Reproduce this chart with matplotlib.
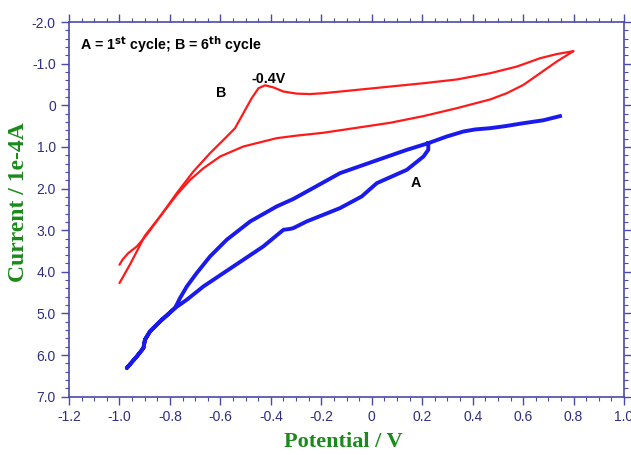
import numpy as np
import matplotlib
matplotlib.use("Agg")
import matplotlib.pyplot as plt
from matplotlib.ticker import MultipleLocator, FuncFormatter

# cycle B (6th cycle), forward branch through the -0.4 V peak
b_fwd_x = [-1.000, -0.958, -0.899, -0.839, -0.773, -0.707, -0.641, -0.581, -0.542,
           -0.509, -0.476, -0.449, -0.423, -0.390, -0.350, -0.297, -0.245, -0.192,
           -0.059, 0.073, 0.205, 0.337, 0.469, 0.575, 0.667, 0.733, 0.799]
b_fwd_y = [4.27, 3.82, 3.13, 2.67, 2.11, 1.59, 1.15, 0.79, 0.55,
           0.19, -0.17, -0.41, -0.48, -0.43, -0.33, -0.28, -0.27, -0.29,
           -0.37, -0.45, -0.53, -0.62, -0.77, -0.93, -1.13, -1.23, -1.30]
# cycle B, return branch
b_rev_x = [0.799, 0.733, 0.667, 0.601, 0.535, 0.469, 0.337, 0.205, 0.073, -0.059,
           -0.192, -0.300, -0.377, -0.509, -0.601, -0.667, -0.720, -0.773, -0.839,
           -0.892, -0.931, -0.965, -0.987, -1.000]
b_rev_y = [-1.30, -1.05, -0.77, -0.49, -0.29, -0.14, 0.07, 0.26, 0.42, 0.54,
           0.66, 0.73, 0.79, 0.99, 1.23, 1.51, 1.79, 2.15, 2.67,
           3.11, 3.39, 3.55, 3.70, 3.83]

# cycle A (1st cycle): upper branch, tail, lower branch, hook
a_x = [0.746, 0.680, 0.601, 0.530, 0.469, 0.410, 0.363, 0.297, 0.224,
       0.139, 0.006, -0.126, -0.245, -0.311, -0.377, -0.482, -0.575, -0.641,
       -0.694, -0.733, -0.760, -0.780, -0.839, -0.879, -0.899, -0.905, -0.931, -0.971,
       -0.931, -0.905, -0.899, -0.879, -0.839, -0.780,
       -0.733, -0.667, -0.588, -0.509, -0.430, -0.350, -0.324, -0.311, -0.258,
       -0.126, -0.040, 0.020, 0.139, 0.205, 0.224, 0.224]
a_y = [0.26, 0.36, 0.43, 0.50, 0.55, 0.58, 0.63, 0.75, 0.91,
       1.07, 1.35, 1.63, 2.03, 2.25, 2.43, 2.79, 3.23, 3.63,
       4.03, 4.35, 4.63, 4.87, 5.19, 5.43, 5.63, 5.83, 6.03, 6.31,
       6.03, 5.83, 5.63, 5.43, 5.19, 4.87,
       4.67, 4.35, 4.03, 3.71, 3.39, 2.99, 2.97, 2.95, 2.79,
       2.47, 2.19, 1.87, 1.55, 1.23, 1.07, 0.91]

axis_col = "#4a4aa8"
tick_col = "#2e2e80"
label_col = "#1a8a1a"

fig = plt.figure(figsize=(6.31, 4.55), dpi=100)
ax = fig.add_axes([0.1094, 0.1281, 0.8796, 0.8235])

ax.plot(b_fwd_x, b_fwd_y, color="#ff1a1a", lw=1.6, solid_capstyle="round")
ax.plot(b_rev_x, b_rev_y, color="#ff1a1a", lw=1.6, solid_capstyle="round")
ax.plot(a_x, a_y, color="#1a1aee", lw=2.8, solid_joinstyle="round")

ax.set_xlim(-1.2, 1.0)
ax.set_ylim(7.0, -2.0)

ax.xaxis.set_major_locator(MultipleLocator(0.2))
ax.xaxis.set_minor_locator(MultipleLocator(0.05))
ax.yaxis.set_major_locator(MultipleLocator(1.0))
ax.yaxis.set_minor_locator(MultipleLocator(0.2))


def fmt(v, pos):
    if abs(v) < 1e-9:
        return "0"
    return "%.1f" % v


ax.xaxis.set_major_formatter(FuncFormatter(fmt))
ax.yaxis.set_major_formatter(FuncFormatter(fmt))

ax.tick_params(which="both", direction="out", top=True, right=True,
               color=axis_col, labelcolor=tick_col, labelsize=10)
ax.tick_params(which="major", length=6, width=1.0)
ax.tick_params(which="minor", length=3, width=0.8)
for lab in ax.get_xticklabels() + ax.get_yticklabels():
    lab.set_family("Liberation Sans")
for sp in ax.spines.values():
    sp.set_color(axis_col)
    sp.set_linewidth(1.2)

ax.set_xlabel("Potential / V", family="Liberation Serif", weight="bold",
              fontsize=16, color=label_col)
ax.set_ylabel("Current / 1e-4A", family="Liberation Serif", weight="bold",
              fontsize=17, color=label_col)
ax.xaxis.set_label_coords(0.495, -0.093)
ax.yaxis.set_label_coords(-0.072, 0.52)

ax.text(-1.155, -1.45, r"A = 1$^{\mathbf{st}}$ cycle; B = 6$^{\mathbf{th}}$ cycle",
        family="Liberation Sans", weight="bold", fontsize=10.3, va="center")
ax.text(-0.41, -0.62, "-0.4V", family="Liberation Sans", weight="bold",
        fontsize=10.3, ha="center", va="center")
ax.text(-0.597, -0.30, "B", family="Liberation Sans", weight="bold",
        fontsize=10.3, ha="center", va="center")
ax.text(0.176, 1.87, "A", family="Liberation Sans", weight="bold",
        fontsize=10.3, ha="center", va="center")

fig.savefig("out.png", dpi=100)
